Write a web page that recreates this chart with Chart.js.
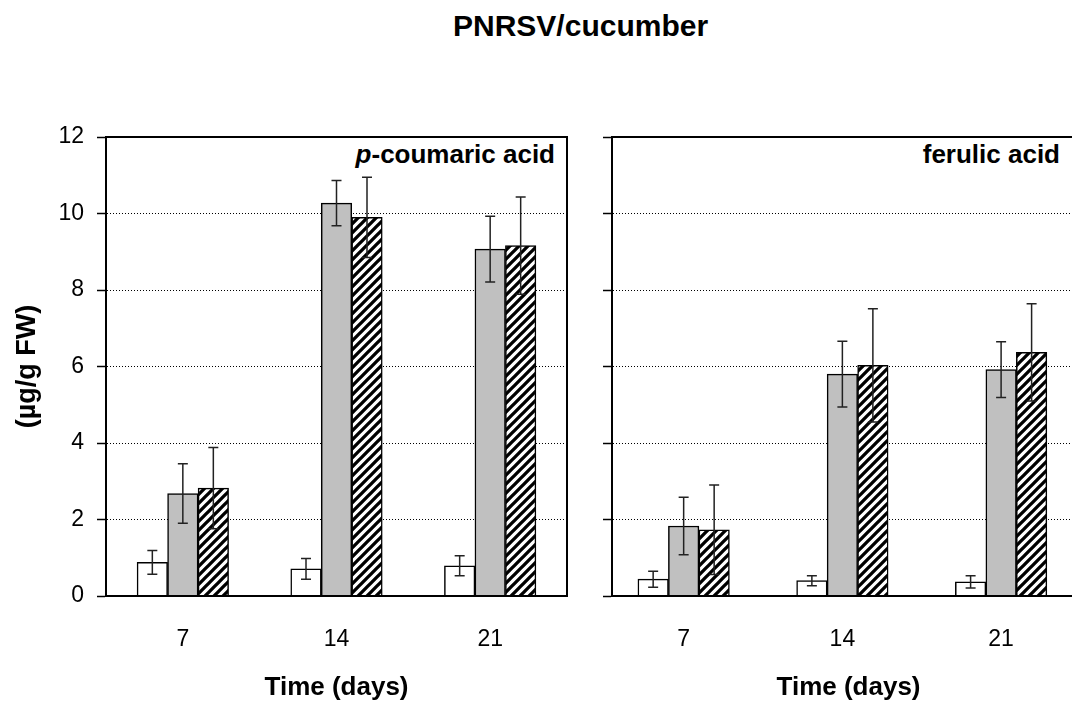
<!DOCTYPE html>
<html>
<head>
<meta charset="utf-8">
<title>PNRSV/cucumber</title>
<script src="https://cdn.jsdelivr.net/npm/chart.js@4/dist/chart.umd.min.js"></script>
<style>
    html, body { margin: 0; padding: 0; width: 1072px; height: 707px; overflow: hidden; background: #fff; }
    body { position: relative; font-family: "Liberation Sans", Arial, sans-serif; color: #000; }
    canvas { position: absolute; top: 0; }
    #left-chart { left: 0; }
    #right-chart { left: 590px; }
    .txt { position: absolute; font-weight: bold; white-space: nowrap; }
    #title { left: 453px; top: 11px; font-size: 30px; line-height: 30px; }
    .panel-label { top: 141px; font-size: 26px; line-height: 26px; }
    #label-left { right: 517px; }
    #label-right { right: 12px; }
</style>
</head>
<body>
<div id="title" class="txt">PNRSV/cucumber</div>
<div id="label-left" class="txt panel-label"><i>p</i>-coumaric acid</div>
<div id="label-right" class="txt panel-label">ferulic acid</div>
<canvas id="left-chart" width="590" height="707"></canvas>
<canvas id="right-chart" width="495" height="707"></canvas>

<script>
// Sampling days (x axis)
const days = [7, 14, 21];
const yMax = 12;
const yStep = 2;

// p-coumaric acid (µg/g FW)
const coumaricWhite = [0.88, 0.71, 0.79];
const coumaricWhiteErr = [0.31, 0.27, 0.26];
const coumaricGray = [2.68, 10.27, 9.07];
const coumaricGrayErr = [0.78, 0.59, 0.86];
const coumaricHatched = [2.82, 9.90, 9.16];
const coumaricHatchedErr = [1.06, 1.05, 1.27];

// ferulic acid (µg/g FW)
const ferulicWhite = [0.44, 0.40, 0.37];
const ferulicWhiteErr = [0.21, 0.13, 0.16];
const ferulicGray = [1.83, 5.80, 5.92];
const ferulicGrayErr = [0.75, 0.86, 0.73];
const ferulicHatched = [1.73, 6.03, 6.37];
const ferulicHatchedErr = [1.17, 1.48, 1.27];

Chart.defaults.font.family = "'Liberation Sans', Arial, sans-serif";
Chart.defaults.color = '#000';

// Diagonal "///" hatch fill
function makeHatch() {
    const size = 9;
    const c = document.createElement('canvas');
    c.width = size;
    c.height = size;
    const g = c.getContext('2d');
    g.fillStyle = '#fff';
    g.fillRect(0, 0, size, size);
    g.strokeStyle = '#000';
    g.lineWidth = 3.3;
    g.beginPath();
    g.moveTo(-1, size + 1); g.lineTo(size + 1, -1);
    g.moveTo(-2, 2); g.lineTo(2, -2);
    g.moveTo(size - 2, size + 2); g.lineTo(size + 2, size - 2);
    g.stroke();
    return g.createPattern(c, 'repeat');
}
const hatch = makeHatch();

// Error bars + closed plot frame
const errorBarsAndFrame = {
    id: 'errorBarsAndFrame',
    afterDatasetsDraw(chart) {
        const ctx = chart.ctx;
        const yScale = chart.scales.y;
        ctx.save();
        ctx.strokeStyle = '#222';
        ctx.lineWidth = 1.5;
        chart.data.datasets.forEach((ds, i) => {
            const meta = chart.getDatasetMeta(i);
            meta.data.forEach((bar, j) => {
                const v = ds.data[j];
                const e = ds.errors[j];
                const top = yScale.getPixelForValue(v + e);
                const bot = yScale.getPixelForValue(v - e);
                ctx.beginPath();
                ctx.moveTo(bar.x, top); ctx.lineTo(bar.x, bot);
                ctx.moveTo(bar.x - 5, top); ctx.lineTo(bar.x + 5, top);
                ctx.moveTo(bar.x - 5, bot); ctx.lineTo(bar.x + 5, bot);
                ctx.stroke();
            });
        });
        const a = chart.chartArea;
        ctx.strokeStyle = '#000';
        ctx.lineWidth = 2;
        ctx.strokeRect(a.left, a.top, a.right - a.left, a.bottom - a.top);
        ctx.restore();
    }
};

function buildDatasets(white, whiteErr, gray, grayErr, hatched, hatchedErr) {
    const common = { borderColor: '#000', borderWidth: 1.5, barThickness: 30.5 };
    return [
        Object.assign({ label: 'series 1', data: white, errors: whiteErr, backgroundColor: '#fff' }, common),
        Object.assign({ label: 'series 2', data: gray, errors: grayErr, backgroundColor: '#c0c0c0' }, common),
        Object.assign({ label: 'series 3', data: hatched, errors: hatchedErr, backgroundColor: hatch }, common)
    ];
}

function createPanel(canvasId, datasets, opts) {
    const ctx = document.getElementById(canvasId).getContext('2d');
    return new Chart(ctx, {
        type: 'bar',
        data: { labels: days, datasets: datasets },
        options: {
            responsive: false,
            animation: false,
            devicePixelRatio: 1,
            layout: { padding: { top: 137, right: opts.padRight, left: 0, bottom: 0 } },
            plugins: { legend: { display: false }, tooltip: { enabled: false } },
            scales: {
                x: {
                    type: 'linear',
                    min: opts.xMin,
                    max: opts.xMax,
                    offset: false,
                    afterBuildTicks: s => { s.ticks = days.map(d => ({ value: d })); },
                    afterFit: s => { s.height = 111; },
                    grid: { display: false, drawTicks: false },
                    border: { color: '#000', width: 2 },
                    ticks: { font: { size: 23 }, padding: 30, maxRotation: 0 },
                    title: {
                        display: true,
                        text: 'Time (days)',
                        font: { size: 26, weight: 'bold' },
                        padding: { top: 0, bottom: 4 }
                    }
                },
                y: {
                    min: 0,
                    max: yMax,
                    afterFit: s => { s.width = opts.yWidth; },
                    ticks: { stepSize: yStep, display: opts.showYLabels, font: { size: 23 }, padding: 13 },
                    grid: {
                        color: c => (c.tick && (c.tick.value === 0 || c.tick.value === yMax)) ? 'rgba(0,0,0,0)' : '#000',
                        lineWidth: 1,
                        tickLength: 9,
                        tickColor: '#000',
                        tickWidth: 1.5,
                        tickBorderDash: []
                    },
                    border: { color: '#000', width: 2, dash: [1, 2] },
                    title: {
                        display: opts.showYLabels,
                        text: '(µg/g FW)',
                        font: { size: 27, weight: 'bold' },
                        padding: { top: 11, bottom: 0 }
                    }
                }
            }
        },
        plugins: [errorBarsAndFrame]
    });
}

createPanel('left-chart',
    buildDatasets(coumaricWhite, coumaricWhiteErr, coumaricGray, coumaricGrayErr, coumaricHatched, coumaricHatchedErr),
    { padRight: 23, yWidth: 106, showYLabels: true, xMin: 3.5, xMax: 24.5 });

createPanel('right-chart',
    buildDatasets(ferulicWhite, ferulicWhiteErr, ferulicGray, ferulicGrayErr, ferulicHatched, ferulicHatchedErr),
    { padRight: 0, yWidth: 22, showYLabels: false, xMin: 3.84, xMax: 24.7 });
</script>
</body>
</html>
